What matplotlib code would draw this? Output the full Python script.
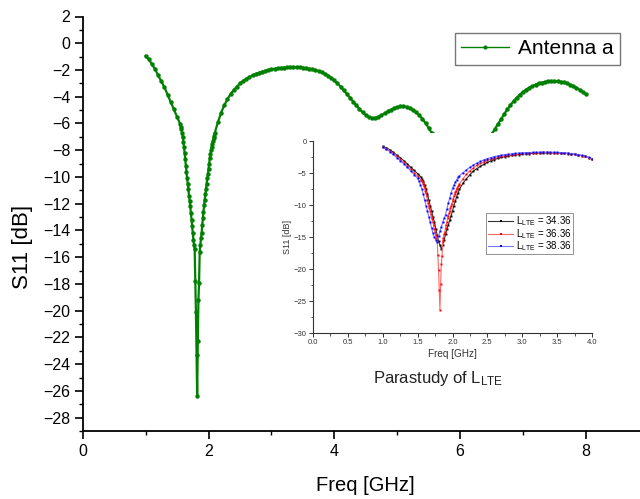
import numpy as np
import matplotlib
matplotlib.use("Agg")
import matplotlib.pyplot as plt
from matplotlib.patches import Rectangle

plt.rcParams['font.family'] = ['Liberation Sans', 'DejaVu Sans']
plt.rcParams['mathtext.fontset'] = 'custom'
plt.rcParams['mathtext.rm'] = 'Liberation Sans'
plt.rcParams['mathtext.it'] = 'Liberation Sans:italic'

# ---------------- data: Antenna a (main) ----------------
freq_a = np.round(np.concatenate([np.arange(1.00, 1.501, 0.05),
                                  np.arange(1.55, 2.101, 0.01),
                                  np.arange(2.15, 8.001, 0.05)]), 2)
s11_a = [-0.95, -1.2, -1.55, -1.95, -2.4, -2.85, -3.3, -3.85, -4.4, -4.95, -5.5,
         -6.05, -6.25, -6.45, -6.7, -7.0, -7.35, -7.75, -8.2, -8.65, -9.15,
         -9.65, -10.1, -10.5, -10.9, -11.4, -11.8, -12.2, -12.7, -13.2, -13.7,
         -14.2, -14.7, -15.1, -15.4, -17.8, -20.1, -23.3, -26.4, -22.3, -19.2,
         -17.9, -15.6, -15.1, -14.6, -14.2, -13.6, -13.1, -12.6, -12.1, -11.7,
         -11.3, -10.9, -10.5, -10.1, -9.8, -9.4, -9.0, -8.6, -8.3, -8.0,
         -7.75, -7.5, -7.3, -7.1, -6.9, -6.7,
         -5.9, -5.2, -4.65, -4.2, -3.8, -3.5, -3.25, -3.0, -2.82, -2.66,
         -2.52, -2.4, -2.3, -2.21, -2.13, -2.06, -2.0, -1.95, -1.91, -1.87,
         -1.84, -1.82, -1.8, -1.79, -1.79, -1.8, -1.81, -1.83, -1.86, -1.9,
         -1.95, -2.01, -2.08, -2.17, -2.28, -2.42, -2.58, -2.78, -3.0, -3.25,
         -3.52, -3.8, -4.08, -4.36, -4.65, -4.92, -5.17, -5.38, -5.53, -5.6,
         -5.58, -5.5, -5.38, -5.24, -5.1, -4.97, -4.86, -4.78, -4.73, -4.72,
         -4.76, -4.85, -4.98, -5.15, -5.38, -5.65, -5.97, -6.33, -6.73, -7.2,
         -7.8, -8.5, -9.3, -10.0, -10.6, -11.0, -11.2, -11.1, -10.7, -10.2,
         -9.6, -9.0, -8.5, -8.1, -7.7, -7.35, -7.0, -6.8, -6.45, -6.05,
         -5.7, -5.3, -4.95, -4.62, -4.33, -4.07, -3.84, -3.64, -3.47, -3.32,
         -3.2, -3.09, -3.0, -2.94, -2.89, -2.86, -2.84, -2.84, -2.85, -2.88,
         -2.93, -3.0, -3.09, -3.2, -3.33, -3.48, -3.64, -3.8]

# ---------------- data: inset parametric study ----------------
freq_3436 = np.round(np.concatenate([np.arange(1.00, 1.551, 0.05),
                                     np.arange(1.56, 2.101, 0.02),
                                     np.arange(2.15, 4.001, 0.05)]), 2)
s11_3436 = [-0.85, -1.05, -1.35, -1.75, -2.2, -2.6, -3.05, -3.55, -4.1, -4.6, -5.1, -5.65,
            -5.9, -6.3, -6.85, -7.45, -8.25, -9.2, -10.1, -10.9, -11.8, -12.7,
            -13.7, -14.7, -15.6, -16.3, -16.85, -16.2, -15.4, -14.6, -13.8, -13.1,
            -12.4, -11.7, -10.9, -10.1, -9.4, -8.7, -8.1, -7.55,
            -6.6, -5.9, -5.25, -4.7, -4.3, -3.95, -3.65, -3.35, -3.1, -2.9,
            -2.72, -2.57, -2.45, -2.35, -2.26, -2.18, -2.11, -2.05, -2.0, -1.96,
            -1.92, -1.9, -1.88, -1.87, -1.86, -1.86, -1.87, -1.88, -1.9, -1.93,
            -1.97, -2.02, -2.09, -2.17, -2.28, -2.42, -2.58, -2.78]

freq_3836 = np.round(np.concatenate([np.arange(1.00, 1.501, 0.05),
                                     np.arange(1.52, 2.101, 0.02),
                                     np.arange(2.15, 4.001, 0.05)]), 2)
s11_3836 = [-0.95, -1.25, -1.65, -2.1, -2.6, -3.05, -3.55, -4.1, -4.65, -5.25, -5.85,
            -6.25, -6.8, -7.45, -8.25, -9.2, -10.1, -10.9, -11.8, -12.7, -13.6,
            -14.4, -15.0, -15.45, -15.75, -14.9, -14.1, -13.4, -12.7, -12.1, -11.5,
            -10.6, -9.7, -8.9, -8.1, -7.4, -6.9, -6.45, -6.05, -5.7, -5.4,
            -4.95, -4.5, -4.1, -3.75, -3.45, -3.2, -2.95, -2.75, -2.58, -2.44,
            -2.32, -2.22, -2.13, -2.06, -2.0, -1.95, -1.9, -1.86, -1.83, -1.8,
            -1.78, -1.76, -1.75, -1.74, -1.74, -1.75, -1.76, -1.78, -1.81, -1.85,
            -1.9, -1.96, -2.03, -2.12, -2.24, -2.38, -2.56, -2.76]

main_label = "Antenna a"
inset_labels = [r"L$_{\mathregular{LTE}}$ = 34.36", r"L$_{\mathregular{LTE}}$ = 36.36",
                r"L$_{\mathregular{LTE}}$ = 38.36"]

GREEN = "#008000"

# ---------------- figure ----------------
fig = plt.figure(figsize=(6.40, 4.99), dpi=100)
ax = fig.add_axes([82.7 / 640, 1 - 431 / 499, 1 - 82.7 / 640, (431 - 16.5) / 499])
ax.set_zorder(0)

ax.plot(freq_a, s11_a, color=GREEN, lw=1.6, marker='o', ms=3.2, mec=GREEN, mfc=GREEN,
        mew=0, label=main_label, solid_joinstyle='round')

ax.set_xlim(0, (640 - 82.7) / 62.9)
ax.set_ylim(-29, 2)
ax.set_xticks([0, 2, 4, 6, 8])
ax.set_xticks([1, 3, 5, 7], minor=True)
ax.set_yticks(np.arange(-28, 3, 2))
ax.set_yticks(np.arange(-29, 3, 1), minor=True)
for s in ['top', 'right']:
    ax.spines[s].set_visible(False)
for s in ['left', 'bottom']:
    ax.spines[s].set_linewidth(1.3)
ax.tick_params(which='major', direction='out', length=6, width=1.2, labelsize=11.5, pad=3)
ax.tick_params(which='minor', direction='out', length=3, width=1.0)
ax.set_xlabel("Freq [GHz]", fontsize=14.5)
ax.set_ylabel("S11 [dB]", fontsize=16)
ax.xaxis.set_label_coords((365 - 82.7) / 557.3, -(476 - 431) / 414.5)
ax.yaxis.set_label_coords(-(82.7 - 33) / 557.3, (431 - 247) / 414.5)

leg = ax.legend(loc='upper right', bbox_to_anchor=((620 - 82.7) / 557.3, (431 - 33) / 414.5),
                borderaxespad=0, fontsize=15, frameon=True, fancybox=False,
                handlelength=2.3, handletextpad=0.45, borderpad=0.3, markerscale=1.0)
leg.get_frame().set_edgecolor('#555555')
leg.get_frame().set_linewidth(1.0)
for h in leg.legend_handles:
    h.set_linewidth(1.0)
    h.set_markersize(3)

# white backdrop of the inset graphic (covers part of main curve)
rect = Rectangle((0.44, 1 - 395 / 499), 0.53, (395 - 133) / 499, transform=fig.transFigure,
                 facecolor='white', edgecolor='none', zorder=1)
fig.patches.append(rect)

# ---------------- inset ----------------
L, R, T, B = 313, 592, 141, 333
axi = fig.add_axes([L / 640, 1 - B / 499, (R - L) / 640, (B - T) / 499])
axi.set_zorder(2)
axi.patch.set_alpha(0)

mask = freq_a <= 4.0
axi.plot(freq_3436, s11_3436, color='#333333', lw=0.8, marker='s', ms=1.4, mfc='black',
         mec='black', mew=0, label=inset_labels[0])
axi.plot(freq_a[mask], np.array(s11_a)[mask], color='#ff6666', lw=0.8, marker='s', ms=1.4,
         mfc='red', mec='red', mew=0, label=inset_labels[1])
axi.plot(freq_3836, s11_3836, color='#7777ff', lw=0.8, marker='s', ms=1.4, mfc='blue',
         mec='blue', mew=0, label=inset_labels[2])

axi.set_xlim(0, 4)
axi.set_ylim(-30, 0)
axi.set_xticks(np.arange(0, 4.01, 0.5))
axi.set_xticklabels([f"{v:.1f}" for v in np.arange(0, 4.01, 0.5)])
axi.set_xticks(np.arange(0.25, 4, 0.5), minor=True)
axi.set_yticks(np.arange(-30, 1, 5))
axi.set_yticks(np.arange(-27.5, 0, 2.5), minor=True)
for s in ['top', 'right']:
    axi.spines[s].set_visible(False)
for s in ['left', 'bottom']:
    axi.spines[s].set_linewidth(0.8)
    axi.spines[s].set_color('#333333')
axi.tick_params(which='major', direction='out', length=3, width=0.7, labelsize=5.5,
                pad=1.5, colors='#333333')
axi.tick_params(which='minor', direction='out', length=1.8, width=0.6, colors='#333333')
axi.set_xlabel("Freq [GHz]", fontsize=7.2, labelpad=2, color='#333333')
axi.set_ylabel("S11 [dB]", fontsize=6.5, labelpad=1, color='#333333')

legi = axi.legend(loc='upper right', bbox_to_anchor=((573 - L) / (R - L), (B - 213) / (B - T)),
                  borderaxespad=0, fontsize=7, frameon=True, fancybox=False,
                  handlelength=2.6, handletextpad=0.3, borderpad=0.15, labelspacing=-0.15,
                  handleheight=0.5)
legi.get_frame().set_edgecolor('#777777')
legi.get_frame().set_linewidth(0.7)
for h in legi.legend_handles:
    h.set_markersize(2)

fig.text(438 / 640, 1 - 378 / 499, r"Parastudy of L$_{\mathregular{LTE}}$", fontsize=12,
         ha='center', va='center', color='#222222', zorder=3)

fig.savefig("out.png", dpi=100)
